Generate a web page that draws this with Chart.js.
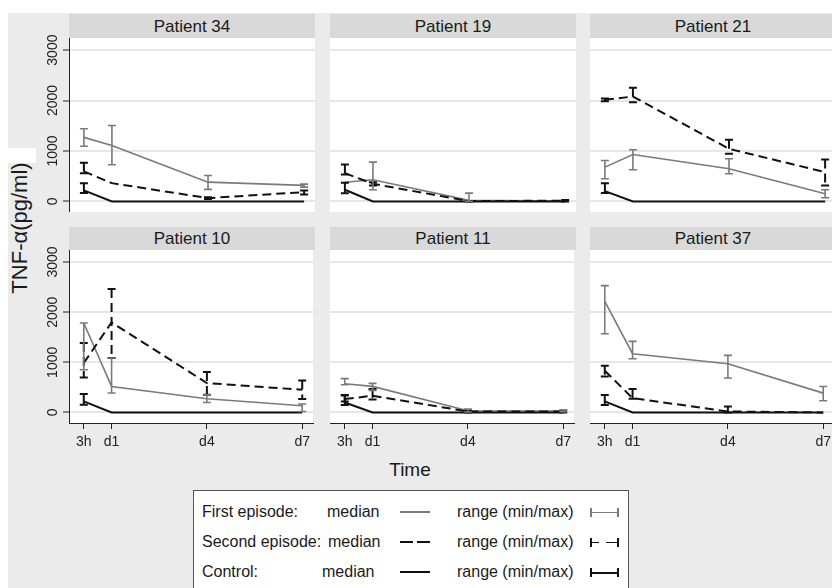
<!DOCTYPE html>
<html>
<head>
<meta charset="utf-8">
<script src="https://cdn.jsdelivr.net/npm/chart.js@4.4.1/dist/chart.umd.min.js"></script>
<style>
html, body { margin:0; padding:0; width:832px; height:588px; overflow:hidden; background:#fff;
  font-family:'Liberation Sans', Arial, sans-serif; color:#1a1a1a; }
#bg { position:absolute; left:8px; top:13px; width:824px; height:575px; background:#ebebeb; }
#patch { position:absolute; left:8px; top:148px; width:28px; height:15px; background:#fff; }
.strip { position:absolute; background:#d9d9d9; text-align:center; font-size:17px; white-space:nowrap; }
.panel { position:absolute; }
.txt { position:absolute; white-space:nowrap; }
#ytitle { position:absolute; left:20px; top:228px; font-size:22px; transform:translate(-50%,-50%) rotate(-90deg); white-space:nowrap; }
#xtitle { position:absolute; left:410px; top:470px; font-size:19px; transform:translate(-50%,-50%); }
#legend { position:absolute; left:193px; top:490px; width:434px; height:110px; background:#fff; border:1px solid #555; }
.seg { position:absolute; }
</style>
</head>
<body>
<div id="bg"></div>
<div id="patch"></div>
<div id="ytitle">TNF-α(pg/ml)</div>
<div id="xtitle">Time</div>
<div id="legend"></div>
<div id="legendItems"></div>

<script>
Chart.defaults.font.family = "'Liberation Sans', Arial, sans-serif";
Chart.defaults.color = '#222';

// panel titles, in reading order (row 1 then row 2)
const patients = ['Patient 34', 'Patient 19', 'Patient 21', 'Patient 10', 'Patient 11', 'Patient 37'];
// time points in days: 3h, day 1, day 4, day 7
const times = [0.125, 1, 4, 7];
const timeLabels = ['3h', 'd1', 'd4', 'd7'];
const yTicks = [0, 1000, 2000, 3000];

// first episode (median, min, max) per patient
const firstMedian = [
  [1270, 1110, 382, 317],
  [380, 430, 20, 5],
  [680, 931, 647, 152],
  [1784, 519, 273, 133],
  [573, 520, 34, 30],
  [2216, 1171, 971, 386]
];
const firstMin = [
  [1095, 727, 238, 283],
  [380, 232, 0, 5],
  [449, 628, 548, 73],
  [852, 387, 200, 20],
  [553, 440, 10, 15],
  [1571, 1072, 686, 234]
];
const firstMax = [
  [1440, 1505, 515, 343],
  [380, 778, 165, 5],
  [812, 1024, 845, 231],
  [1784, 1086, 353, 168],
  [675, 580, 70, 50],
  [2529, 1418, 1138, 519]
];

// second episode
const secondMedian = [
  [594, 362, 65, 184],
  [560, 350, 5, 15],
  [2014, 2080, 1043, 580],
  [986, 1796, 586, 453],
  [267, 333, 20, 20],
  [832, 286, 20, 0]
];
const secondMin = [
  [560, 362, 50, 138],
  [535, 316, 0, 0],
  [1985, 1966, 944, 317],
  [699, 1086, 353, 267],
  [220, 260, 0, 0],
  [719, 273, 0, 0]
];
const secondMax = [
  [766, 362, 80, 218],
  [733, 382, 10, 30],
  [2040, 2252, 1222, 832],
  [1385, 2463, 806, 639],
  [340, 470, 40, 40],
  [932, 467, 120, 0]
];

// control
const controlMedian = [
  [218, 0, 0, 0],
  [232, 0, 0, 0],
  [205, 0, 0, 0],
  [220, 0, 0, 0],
  [200, 0, 0, 0],
  [220, 0, 0, 0]
];
const controlMin = [
  [165, 0, 0, 0],
  [164, 0, 0, 0],
  [165, 0, 0, 0],
  [154, 0, 0, 0],
  [150, 0, 0, 0],
  [150, 0, 0, 0]
];
const controlMax = [
  [362, 0, 0, 0],
  [370, 0, 0, 0],
  [362, 0, 0, 0],
  [367, 0, 0, 0],
  [350, 0, 0, 0],
  [349, 0, 0, 0]
];

const GRAY = '#7a7a7a';
const BLACK = '#111';
const DASH = [9, 5];

// white plot background
const plotBg = {
  id: 'plotBg',
  beforeDraw(chart) {
    const a = chart.chartArea;
    const ctx = chart.ctx;
    ctx.save();
    ctx.fillStyle = '#fff';
    ctx.fillRect(a.left, a.top, a.right - a.left, a.bottom - a.top);
    ctx.restore();
  }
};

// min/max range bars
const errorBars = {
  id: 'errorBars',
  afterDatasetsDraw(chart) {
    const ctx = chart.ctx;
    const xs = chart.scales.x, ys = chart.scales.y;
    chart.data.datasets.forEach(ds => {
      if (!ds.lo) return;
      ctx.save();
      ctx.strokeStyle = ds.borderColor;
      ctx.lineWidth = ds.borderWidth;
      ds.lo.forEach((lo, i) => {
        const hi = ds.hi[i];
        if (hi - lo < 1) return;
        const px = xs.getPixelForValue(times[i]);
        const top = ys.getPixelForValue(hi);
        const bot = ys.getPixelForValue(lo);
        ctx.setLineDash(ds.borderDash || []);
        ctx.beginPath();
        ctx.moveTo(px, top);
        ctx.lineTo(px, bot);
        ctx.stroke();
        ctx.setLineDash([]);
        ctx.beginPath();
        ctx.moveTo(px - 4, top); ctx.lineTo(px + 4, top);
        ctx.moveTo(px - 4, bot); ctx.lineTo(px + 4, bot);
        ctx.stroke();
      });
      ctx.restore();
    });
  }
};

// y tick labels written upward, like the original
const yLabels = {
  id: 'yLabels',
  afterDraw(chart) {
    if (!chart.options.showYLabels) return;
    const ctx = chart.ctx;
    const ys = chart.scales.y;
    ctx.save();
    ctx.font = "14px 'Liberation Sans', Arial, sans-serif";
    ctx.fillStyle = '#222';
    ctx.textAlign = 'center';
    ctx.textBaseline = 'middle';
    ys.ticks.forEach(t => {
      ctx.save();
      ctx.translate(chart.chartArea.left - 16, ys.getPixelForValue(t.value));
      ctx.rotate(-Math.PI / 2);
      ctx.fillText(String(t.value), 0, 0);
      ctx.restore();
    });
    ctx.restore();
  }
};

function pts(arr) {
  return times.map((t, i) => ({ x: t, y: arr[i] }));
}

const colLeft = [69, 330, 590];
const rowTop = [38, 250];
const rowH = [174, 173];
const stripTop = [14, 227];
const stripH = [24, 23];
const plotW = 246;
const yAxisW = 45;
const xAxisH = 35;
const padTop = 10;

patients.forEach((name, p) => {
  const row = Math.floor(p / 3), col = p % 3;

  const strip = document.createElement('div');
  strip.className = 'strip';
  strip.style.left = colLeft[col] + 'px';
  strip.style.top = stripTop[row] + 'px';
  strip.style.width = plotW + 'px';
  strip.style.height = stripH[row] + 'px';
  strip.style.lineHeight = (stripH[row] + 1) + 'px';
  strip.textContent = name;
  document.body.appendChild(strip);

  const extraL = col === 0 ? yAxisW : 0;
  const extraT = col === 0 ? padTop : 0;
  const extraB = row === 1 ? xAxisH : 0;
  const wrap = document.createElement('div');
  wrap.className = 'panel';
  wrap.style.left = (colLeft[col] - extraL) + 'px';
  wrap.style.top = (rowTop[row] - extraT) + 'px';
  wrap.style.width = (plotW + extraL) + 'px';
  wrap.style.height = (rowH[row] + extraT + extraB) + 'px';
  const cv = document.createElement('canvas');
  wrap.appendChild(cv);
  document.body.appendChild(wrap);

  new Chart(cv, {
    type: 'line',
    data: {
      datasets: [
        { data: pts(controlMedian[p]), lo: controlMin[p], hi: controlMax[p],
          borderColor: BLACK, borderWidth: 2, pointRadius: 0 },
        { data: pts(secondMedian[p]), lo: secondMin[p], hi: secondMax[p],
          borderColor: BLACK, borderWidth: 2, borderDash: DASH, pointRadius: 0 },
        { data: pts(firstMedian[p]), lo: firstMin[p], hi: firstMax[p],
          borderColor: GRAY, borderWidth: 1.6, pointRadius: 0 }
      ]
    },
    options: {
      responsive: true,
      maintainAspectRatio: false,
      animation: false,
      showYLabels: col === 0,
      layout: { padding: { top: extraT, left: 0, right: 0, bottom: 0 } },
      plugins: { legend: { display: false }, tooltip: { enabled: false } },
      scales: {
        x: {
          type: 'linear', min: -0.34, max: 7.34,
          display: row === 1,
          afterBuildTicks: s => { s.ticks = times.map(v => ({ value: v })); },
          afterFit: s => { s.height = row === 1 ? xAxisH : 0; },
          ticks: { autoSkip: false, maxRotation: 0, padding: 5, font: { size: 14 }, color: '#222',
                   callback: (v, i) => timeLabels[i] },
          grid: { drawOnChartArea: false, tickLength: 6, tickColor: '#222', tickWidth: 1 },
          border: { display: true, color: '#222', width: 1 }
        },
        y: {
          type: 'linear', min: -210, max: 3240,
          afterBuildTicks: s => { s.ticks = yTicks.map(v => ({ value: v })); },
          afterFit: s => { s.width = col === 0 ? yAxisW : 0; },
          ticks: { display: false },
          grid: { color: '#e6e6e6', lineWidth: 2, drawTicks: col === 0, tickLength: 6,
                  tickColor: '#222', tickWidth: 1 },
          border: { display: col === 0, color: '#222', width: 1 }
        }
      }
    },
    plugins: [plotBg, errorBars, yLabels]
  });
});

// legend (HTML)
const legendRows = [
  { label: 'First episode:', medX: 327, color: GRAY, dashed: false, w: 1.5 },
  { label: 'Second episode:', medX: 328, color: BLACK, dashed: true, w: 2 },
  { label: 'Control:', medX: 322, color: BLACK, dashed: false, w: 2 }
];
const rowY = [512, 542, 572];
const box = document.getElementById('legendItems');
function addText(t, x, y) {
  const d = document.createElement('div');
  d.className = 'txt';
  d.style.left = x + 'px';
  d.style.top = (y - 10) + 'px';
  d.style.fontSize = '16px';
  d.style.lineHeight = '20px';
  d.textContent = t;
  box.appendChild(d);
}
function addSeg(x, y, w, h, color) {
  const d = document.createElement('div');
  d.className = 'seg';
  d.style.left = x + 'px';
  d.style.top = y + 'px';
  d.style.width = w + 'px';
  d.style.height = h + 'px';
  d.style.background = color;
  box.appendChild(d);
}
legendRows.forEach((r, i) => {
  const y = rowY[i];
  addText(r.label, 202, y);
  addText('median', r.medX, y);
  addText('range (min/max)', 457, y);
  const lw = r.w;
  if (r.dashed) {
    addSeg(400, y - lw / 2, 13, lw, r.color);
    addSeg(417, y - lw / 2, 13, lw, r.color);
    addSeg(590, y - 0.5, 9, 1.5, r.color);
    addSeg(606, y - 0.5, 12, 1.5, r.color);
  } else {
    addSeg(400, y - lw / 2, 30, lw, r.color);
    addSeg(590, y - 0.5, 28, lw === 2 ? 2 : 1.5, r.color);
  }
  addSeg(590, y - 4, 1.5, 9, r.color);
  addSeg(617, y - 4, 1.5, 9, r.color);
});
</script>
</body>
</html>
